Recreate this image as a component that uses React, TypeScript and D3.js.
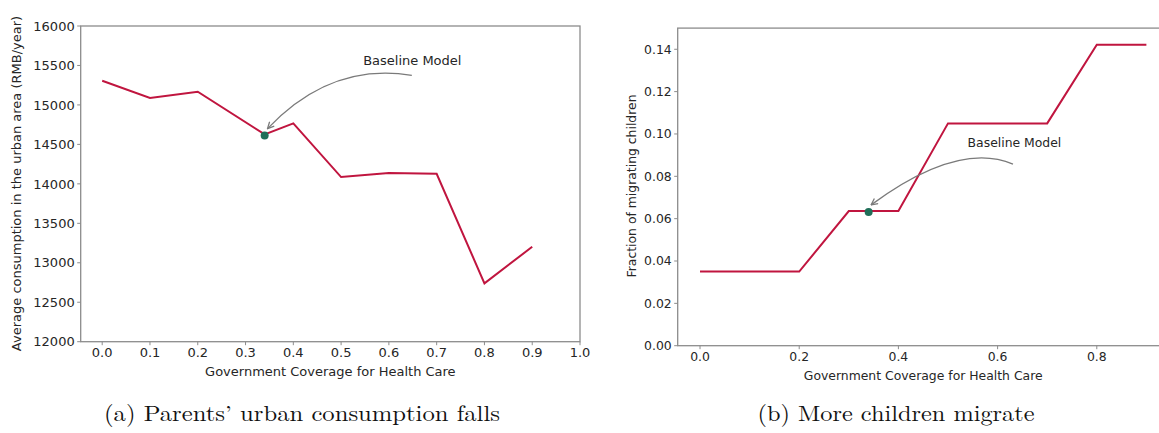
import React from "react";
import * as d3 from "d3";

// ---- Data ----
const coverageA = [0.0, 0.1, 0.2, 0.34, 0.4, 0.5, 0.6, 0.7, 0.8, 0.9];
const consumption = [15307, 15087, 15167, 14627, 14767, 14086, 14137, 14128, 12739, 13203];
const coverageB = [0.0, 0.1, 0.2, 0.3, 0.34, 0.4, 0.5, 0.6, 0.7, 0.8, 0.9];
const migrating = [0.035, 0.035, 0.035, 0.0636, 0.0636, 0.0636, 0.105, 0.105, 0.105, 0.1421, 0.1421];
const baselineA = [0.34, 14612];
const baselineB = [0.34, 0.0632];
const ticksAx = [0.0, 0.1, 0.2, 0.3, 0.4, 0.5, 0.6, 0.7, 0.8, 0.9, 1.0];
const ticksAy = [12000, 12500, 13000, 13500, 14000, 14500, 15000, 15500, 16000];
const ticksBx = [0.0, 0.2, 0.4, 0.6, 0.8];
const ticksBy = [0.0, 0.02, 0.04, 0.06, 0.08, 0.1, 0.12, 0.14];
// annotation: text, arrow start, control, end (data coords)
const annotA = { text: [0.649, 15569], start: [0.648, 15375], ctrl: [0.478, 15544], end: [0.346, 14700] };
const annotB = { text: [0.634, 0.0959], start: [0.631, 0.0858], ctrl: [0.52, 0.0967], end: [0.345, 0.0665] };
const labelA = { x: "Government Coverage for Health Care", y: "Average consumption in the urban area (RMB/year)" };
const labelB = { x: "Government Coverage for Health Care", y: "Fraction of migrating children" };
const captionA = "(a) Parents\u2019 urban consumption falls";
const captionB = "(b) More children migrate";

const LINE = "#c0153f";
const MARK = "#1f6e58";
const FRAME = "#8c8c8c";
const TXT = "#262626";
const ARROW = "#7a7a7a";
const FONT = "'DejaVu Sans', sans-serif";

function Panel({ xs, ys, xDom, xRange, yDom, yRange, xTicks, yTicks, fmtX, fmtY, base, annot, labels, fs, clipId }) {
  const x = d3.scaleLinear().domain(xDom).range(xRange);
  const y = d3.scaleLinear().domain(yDom).range(yRange);
  const line = d3.line<number>().x((_, i) => x(xs[i])).y((d) => y(d));
  const [x0, x1] = xRange;
  const [yb, yt] = yRange;
  const ctrl = [x(annot.ctrl[0]), y(annot.ctrl[1])];
  const s = [x(annot.start[0]), y(annot.start[1])];
  const e = [x(annot.end[0]), y(annot.end[1])];
  const arrowPath = `M${s[0]},${s[1]} Q${ctrl[0]},${ctrl[1]} ${e[0]},${e[1]}`;
  return (
    <g>
      <rect x={x0} y={yt} width={x1 - x0} height={yb - yt} fill="none" stroke={FRAME} strokeWidth={1.3} />
      {yTicks.map((t) => (
        <g key={"y" + t}>
          <line x1={x0 - 3.5} x2={x0} y1={y(t)} y2={y(t)} stroke={FRAME} strokeWidth={1} />
          <text x={x0 - 6} y={y(t)} dy="0.36em" textAnchor="end" fontSize={fs} fill={TXT} fontFamily={FONT}>
            {fmtY(t)}
          </text>
        </g>
      ))}
      {xTicks.map((t) => (
        <g key={"x" + t}>
          <line x1={x(t)} x2={x(t)} y1={yb} y2={yb + 3.5} stroke={FRAME} strokeWidth={1} />
          <text x={x(t)} y={yb + 11} dy="0.36em" textAnchor="middle" fontSize={fs} fill={TXT} fontFamily={FONT}>
            {fmtX(t)}
          </text>
        </g>
      ))}
      <path d={line(ys) || ""} fill="none" stroke={LINE} strokeWidth={2} strokeLinejoin="miter" />
      <circle cx={x(base[0])} cy={y(base[1])} r={4} fill={MARK} />
      <path d={arrowPath} fill="none" stroke={ARROW} strokeWidth={1.3} markerEnd={`url(#${clipId})`} />
      <text x={x(annot.text[0])} y={y(annot.text[1])} dy="0.36em" textAnchor="middle" fontSize={fs} fill={TXT} fontFamily={FONT}>
        Baseline Model
      </text>
      <text x={(x0 + Math.min(x1, 1168.7)) / 2} y={yb + 30} dy="0.36em" textAnchor="middle" fontSize={fs} fill={TXT} fontFamily={FONT}>
        {labels.x}
      </text>
    </g>
  );
}

export default function App() {
  return (
    <svg width={1159} height={433} viewBox="0 0 1159 433" style={{ position: "absolute", left: 0, top: 0, background: "#fff" }}>
      <defs>
        <marker id="arrA" viewBox="0 0 10 10" refX="9" refY="5" markerWidth="8" markerHeight="8" markerUnits="userSpaceOnUse" orient="auto">
          <path d="M1,1 L9,5 L1,9" fill="none" stroke={ARROW} strokeWidth={1.6} />
        </marker>
        <marker id="arrB" viewBox="0 0 10 10" refX="9" refY="5" markerWidth="8" markerHeight="8" markerUnits="userSpaceOnUse" orient="auto">
          <path d="M1,1 L9,5 L1,9" fill="none" stroke={ARROW} strokeWidth={1.6} />
        </marker>
      </defs>
      <rect width={1159} height={433} fill="#fff" />
      <Panel
        xs={coverageA}
        ys={consumption}
        xDom={[-0.045, 1.0]}
        xRange={[80.7, 580]}
        yDom={[12000, 16000]}
        yRange={[341.7, 26]}
        xTicks={ticksAx}
        yTicks={ticksAy}
        fmtX={(t) => t.toFixed(1)}
        fmtY={(t) => String(t)}
        base={baselineA}
        annot={annotA}
        labels={labelA}
        fs={13}
        clipId="arrA"
      />
      <text transform="translate(16.7,183.5) rotate(-90)" dy="0.36em" textAnchor="middle" fontSize={13} fill={TXT} fontFamily={FONT}>
        {labelA.y}
      </text>
      <Panel
        xs={coverageB}
        ys={migrating}
        xDom={[-0.045, 0.945]}
        xRange={[677.7, 1168.7]}
        yDom={[0, 0.15]}
        yRange={[345.7, 28.1]}
        xTicks={ticksBx}
        yTicks={ticksBy}
        fmtX={(t) => t.toFixed(1)}
        fmtY={(t) => t.toFixed(2)}
        base={baselineB}
        annot={annotB}
        labels={labelB}
        fs={12.4}
        clipId="arrB"
      />
      <text transform="translate(631.7,186) rotate(-90)" dy="0.36em" textAnchor="middle" fontSize={12.4} fill={TXT} fontFamily={FONT}>
        {labelB.y}
      </text>
      <text x={302} y={421} textAnchor="middle" fontSize={22} fill="#111" fontFamily="'Latin Modern Roman','CMU Serif','Liberation Serif',serif" textLength={396} lengthAdjust="spacingAndGlyphs">
        {captionA}
      </text>
      <text x={896} y={421} textAnchor="middle" fontSize={22} fill="#111" fontFamily="'Latin Modern Roman','CMU Serif','Liberation Serif',serif" textLength={277} lengthAdjust="spacingAndGlyphs">
        {captionB}
      </text>
    </svg>
  );
}
